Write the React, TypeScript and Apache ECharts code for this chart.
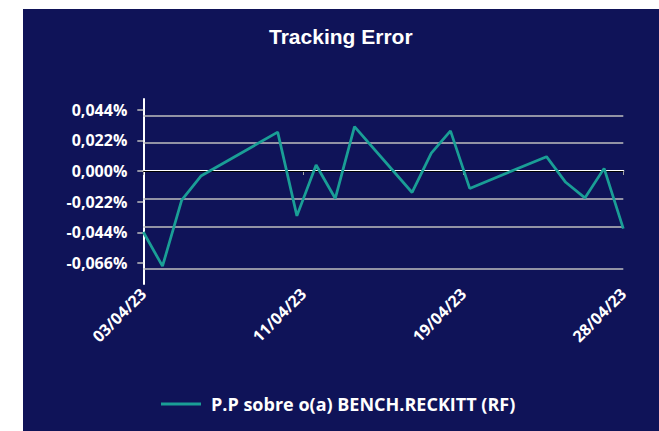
import React, { useEffect, useRef } from "react";
import * as echarts from "echarts";

const dates = [
  "03/04/23", "04/04/23", "05/04/23", "06/04/23", "10/04/23", "11/04/23",
  "12/04/23", "13/04/23", "14/04/23", "17/04/23", "18/04/23", "19/04/23",
  "20/04/23", "24/04/23", "25/04/23", "26/04/23", "27/04/23", "28/04/23",
];
const values = [
  -0.0438, -0.0683, -0.0209, -0.0036, 0.0279, -0.0322,
  0.0043, -0.0197, 0.0319, -0.0154, 0.0128, 0.0288,
  -0.0125, 0.0103, -0.0081, -0.0193, 0.0019, -0.0413,
];
const yTicks = [-0.066, -0.044, -0.022, 0, 0.022, 0.044];
const xTickLabels = ["03/04/23", "11/04/23", "19/04/23", "28/04/23"];
const seriesName = "P.P sobre o(a) BENCH.RECKITT (RF)";
const title = "Tracking Error";

const firstDay = parseInt(dates[0].slice(0, 2), 10);
const dayOffset = (d: string) => parseInt(d.slice(0, 2), 10) - firstDay;
const lastOffset = dayOffset(dates[dates.length - 1]);
const xTickValues = xTickLabels.map((_, i) => (lastOffset * i) / (xTickLabels.length - 1));

const fmtPct = (v: number) => {
  const s = Math.abs(v) < 1e-9 ? "0,000" : v.toFixed(3).replace(".", ",");
  return s + "%";
};

export default function App() {
  const ref = useRef<HTMLDivElement>(null);
  useEffect(() => {
    if (!ref.current) return;
    const chart = echarts.init(ref.current, undefined, { renderer: "svg" });
    const labelFont = { color: "#ffffff", fontFamily: "Open Sans", fontWeight: "bold" as const, fontSize: 16 };
    chart.setOption({
      animation: false,
      backgroundColor: "#0f1358",
      title: {
        text: title,
        left: 241,
        top: 12,
        textStyle: { color: "#ffffff", fontFamily: "Liberation Sans", fontWeight: "bold", fontSize: 21 },
      },
      legend: {
        left: 133,
        top: 381,
        icon: "rect",
        itemWidth: 40,
        itemHeight: 3,
        textStyle: { color: "#ffffff", fontFamily: "Open Sans", fontWeight: "bold", fontSize: 18, padding: [0, 0, 0, 5] },
        data: [seriesName],
      },
      grid: { left: 120.3, right: 35.7, top: 90, bottom: 147, containLabel: false },
      xAxis: {
        type: "value",
        min: 0,
        max: lastOffset,
        splitLine: { show: false },
        axisLine: { show: true, lineStyle: { color: "#ffffff", width: 2 } },
        axisTick: { show: true, customValues: xTickValues, length: 4, lineStyle: { color: "#a6a6a6", width: 1 } },
        axisLabel: {
          ...labelFont,
          customValues: xTickValues,
          rotate: 45,
          margin: 7,
          formatter: (v: number) => {
            const idx = xTickValues.findIndex((t) => Math.abs(t - v) < 1e-6);
            return idx >= 0 ? xTickLabels[idx] : "";
          },
        },
      },
      yAxis: {
        type: "value",
        min: -0.0811,
        max: 0.0517,
        splitLine: { show: false },
        axisLine: { show: true, onZero: false, lineStyle: { color: "#ffffff", width: 2 } },
        axisTick: { show: true, customValues: yTicks, length: 6, lineStyle: { color: "#bfbfbf", width: 1.5 } },
        axisLabel: {
          ...labelFont,
          customValues: yTicks,
          margin: 16,
          formatter: (v: number) => fmtPct(v),
        },
      },
      series: [
        {
          name: seriesName,
          type: "line",
          data: dates.map((d, i) => [dayOffset(d), values[i]]),
          symbol: "none",
          lineStyle: { color: "#1a9e96", width: 2.75 },
          itemStyle: { color: "#1a9e96" },
          z: 5,
          markLine: {
            silent: true,
            symbol: "none",
            label: { show: false },
            animation: false,
            data: yTicks.map((t) => ({
              yAxis: t,
              lineStyle: t === 0
                ? { color: "#000000", width: 1, type: "solid" }
                : { color: "#bfbfbf", width: 1.5, type: "solid" },
            })),
          },
        },
      ],
    });
    return () => chart.dispose();
  }, []);
  return (
    <div
      ref={ref}
      style={{ position: "absolute", left: 23, top: 9, width: 636, height: 422 }}
    />
  );
}
